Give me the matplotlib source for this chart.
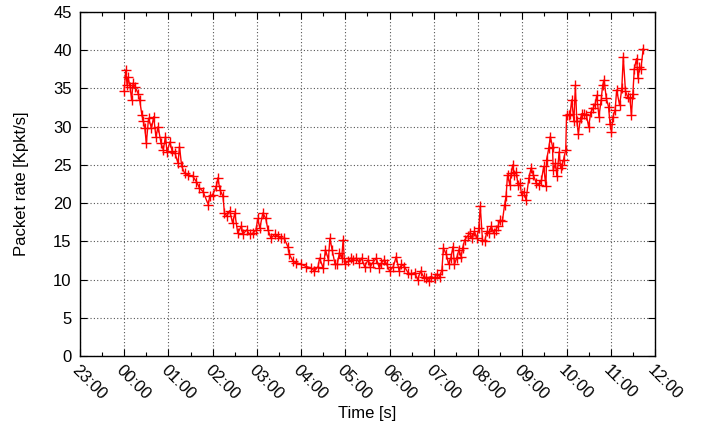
import numpy as np
import matplotlib
matplotlib.use("Agg")
import matplotlib.pyplot as plt
from matplotlib.ticker import MultipleLocator

plt.rcParams['font.family'] = ['Liberation Sans', 'DejaVu Sans']

# minutes after 00:00, packet rate in Kpkt/s
minutes = [0, 2, 4, 5, 8, 10, 12, 15, 19, 21, 24, 26, 28, 30, 33, 37, 40, 43,
           46, 50, 53, 56, 58, 62, 65, 69, 73, 75, 78, 82, 87, 93, 98, 102,
           107, 114, 116, 120, 125, 127, 130, 134, 136, 139, 143, 147, 150,
           154, 159, 161, 166, 170, 175, 179, 181, 184, 188, 192, 195, 199,
           204, 208, 213, 217, 222, 224, 229, 233, 240, 247, 254, 258, 263,
           265, 270, 273, 277, 279, 282, 286, 289, 292, 295, 297, 299, 304,
           307, 310, 315, 319, 322, 326, 331, 334, 337, 342, 346, 349, 353,
           356, 360, 365, 369, 373, 376, 380, 385, 389, 394, 398, 402, 406,
           410, 413, 416, 421, 424, 428, 431, 433, 437, 440, 443, 446, 448,
           451, 454, 457, 459, 462, 466, 469, 472, 475, 478, 481, 483, 486,
           489, 492, 495, 498, 501, 504, 507, 510, 513, 516, 518, 520, 523,
           525, 527, 529, 532, 534, 537, 539, 542, 545, 549, 552, 555, 559,
           562, 566, 569, 572, 573, 576, 578, 581, 582, 585, 587, 590, 592,
           594, 596, 599, 600, 603, 605, 607, 610, 612, 614, 616, 619, 621,
           624, 627, 630, 633, 636, 639, 641, 644, 647, 649, 651, 654, 657,
           659, 661, 663, 666, 668, 672, 675, 677, 680, 683, 686, 688, 690,
           692, 695, 697, 699, 701, 704]
rate = [34.7, 37.4, 35.4, 36.5, 35.2, 33.5, 35.7, 35.2, 34.3, 33.5, 31.5,
        30.7, 29.8, 27.8, 31.1, 29.8, 31.3, 28.7, 30.0, 27.8, 27.0, 28.7,
        26.7, 28.0, 26.8, 26.5, 25.2, 27.4, 24.8, 23.9, 23.7, 23.5, 22.8,
        22.0, 21.5, 19.8, 20.9, 21.1, 22.2, 23.3, 21.7, 20.9, 18.7, 18.3,
        19.0, 17.4, 18.7, 16.1, 17.0, 15.9, 16.5, 15.9, 16.1, 16.5, 18.0,
        16.7, 18.7, 18.0, 16.5, 15.4, 15.9, 15.7, 15.4, 15.4, 14.3, 13.3,
        12.4, 12.2, 12.0, 11.7, 11.5, 11.1, 11.7, 12.8, 11.5, 13.9, 12.6,
        15.4, 13.9, 12.0, 12.0, 13.5, 12.8, 15.2, 12.0, 12.4, 12.8, 12.6,
        12.8, 12.2, 12.8, 11.7, 12.6, 11.7, 12.2, 12.8, 11.5, 12.2, 12.6,
        12.0, 11.1, 11.7, 13.0, 11.1, 12.0, 11.7, 10.9, 10.7, 10.9, 10.0,
        11.1, 10.4, 10.2, 9.8, 10.4, 10.2, 10.7, 10.4, 11.3, 14.1, 13.3,
        12.0, 12.8, 14.3, 12.0, 12.8, 13.9, 13.0, 14.1, 15.2, 15.7, 16.1,
        15.4, 16.3, 15.4, 16.7, 19.6, 15.2, 15.0, 16.3, 16.1, 17.0, 16.1,
        16.5, 17.0, 17.8, 17.6, 19.8, 20.9, 23.7, 22.4, 23.9, 25.0, 23.7,
        24.1, 22.4, 22.6, 21.1, 21.5, 20.4, 23.3, 24.6, 23.7, 22.6, 22.4,
        23.0, 24.8, 22.2, 25.7, 27.2, 28.7, 27.4, 24.3, 25.2, 23.5, 26.7,
        24.6, 25.0, 25.7, 27.0, 31.5, 31.5, 31.7, 33.5, 30.7, 35.4, 30.7,
        29.1, 31.1, 31.7, 31.7, 31.5, 30.0, 31.9, 32.4, 33.0, 34.1, 31.3,
        33.5, 35.4, 36.1, 33.7, 32.6, 30.4, 29.3, 31.3, 32.2, 34.8, 32.8,
        35.0, 39.1, 34.6, 33.9, 33.7, 31.5, 34.3, 37.6, 38.9, 36.3, 37.8,
        37.6, 40.2]

hour_labels = ['23:00', '00:00', '01:00', '02:00', '03:00', '04:00', '05:00',
               '06:00', '07:00', '08:00', '09:00', '10:00', '11:00', '12:00']

hours = np.array(minutes) / 60.0

fig = plt.figure(figsize=(7.09, 4.28), dpi=100)
ax = fig.add_axes([0.1128, 0.1682, 0.8110, 0.8038])

ax.plot(hours, rate, color='red', linewidth=1.0, marker='+',
        markersize=7, markeredgewidth=1.0)

ax.set_xlim(-1, 12)
ax.set_ylim(0, 45)
ax.set_xticks(np.arange(-1, 13))
ax.set_xticklabels(hour_labels, rotation=-45, ha='left', va='top',
                   rotation_mode='anchor')
ax.xaxis.set_minor_locator(MultipleLocator(0.5))
ax.yaxis.set_major_locator(MultipleLocator(5))

ax.tick_params(which='both', direction='in', top=True, right=True,
               labelsize=12, width=0.8)
ax.tick_params(which='major', length=5, pad=5)
ax.tick_params(which='minor', length=3)
ax.tick_params(axis='y', pad=6)

ax.grid(True, which='major', color='#555555', linestyle=(0, (1, 2)),
        linewidth=0.8)
for s in ax.spines.values():
    s.set_linewidth(1.0)

ax.set_xlabel('Time [s]', fontsize=12, labelpad=2)
ax.set_ylabel('Packet rate [Kpkt/s]', fontsize=12, labelpad=17)

fig.savefig('out.png', dpi=100)
